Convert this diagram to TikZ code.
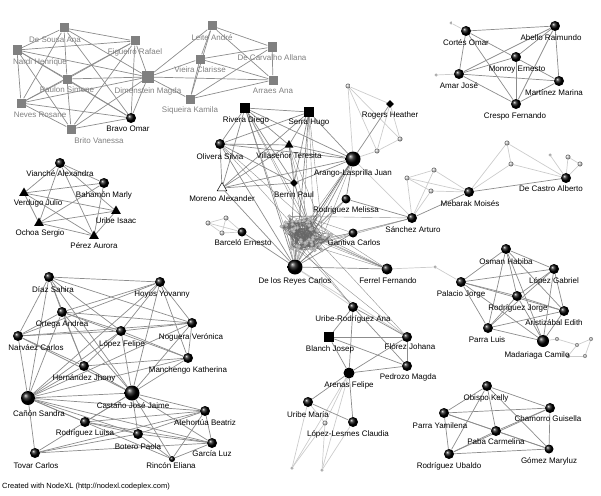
\documentclass[tikz,border=0pt]{standalone}
\usepackage{fontspec}
\setmainfont{Liberation Sans}
\usepackage{xcolor}
\usepackage{tikz}
\usetikzlibrary{positioning, shapes.geometric, backgrounds}

\begin{document}
\begin{tikzpicture}[
        x=1pt, y=-1pt,
        lbl/.style={font=\fontsize{8}{9}\selectfont, inner sep=0pt},
        glbl/.style={lbl, text=black!50},
        sq/.style={rectangle, fill=black!50, minimum size=9pt, inner sep=0pt},
        bsq/.style={rectangle, fill=black, minimum size=10pt, inner sep=0pt},
        ball/.style={circle, shading=ball, ball color=black, minimum size=10pt, inner sep=0pt},
        bigball/.style={ball, minimum size=15pt},
        lball/.style={circle, shading=ball, ball color=black!25, minimum size=5pt, inner sep=0pt},
        tri/.style={regular polygon, regular polygon sides=3, fill=black, minimum size=11pt, inner sep=0pt},
        otri/.style={tri, fill=white, draw=black, line width=0.5pt},
        dia/.style={diamond, fill=black, minimum size=8pt, inner sep=0pt},
        hair/.style={circle, draw=black!40, fill=black!25, minimum size=3.5pt, inner sep=0pt, line width=0.3pt},
        edge/.style={draw=black!45, line width=0.7pt},
        ledge/.style={draw=black!20, line width=0.7pt},
        hedge/.style={draw=black!60, line width=0.4pt, opacity=0.7}
    ]
    \useasboundingbox (0,0) rectangle (601,495);

    % top-left group
    \node[sq] (desousa) at (64,28) {};
    \node[sq] (figueiro) at (135,41) {};
    \node[sq] (nardi) at (17,50) {};
    \node[sq] (paulon) at (67,79) {};
    \node[sq, minimum size=12pt] (dimenstein) at (148,77) {};
    \node[sq] (neves) at (21,103) {};
    \node[sq] (brito) at (71,129) {};
    \node[ball] (bravo) at (131,118) {};
    \node[sq] (leite) at (212,26) {};
    \node[sq] (vieira) at (200,59) {};
    \node[sq] (decarvalho) at (272,47) {};
    \node[sq] (arraes) at (273,80) {};
    \node[sq] (siqueira) at (190,99) {};
    \node[glbl] (desousa-l) at (55,40) {De Sousa Ana};
    \node[glbl] (figueiro-l) at (135,52) {Figueiró Rafael};
    \node[glbl] (nardi-l) at (40,62) {Nardi Henrique};
    \node[glbl] (paulon-l) at (67,90) {Paulon Simone};
    \node[glbl] (dimenstein-l) at (148,91) {Dimenstein Magda};
    \node[glbl] (neves-l) at (40,115) {Neves Rosane};
    \node[glbl] (brito-l) at (99,141) {Brito Vanessa};
    \node[lbl] (bravo-l) at (128,129) {Bravo Omar};
    \node[glbl] (leite-l) at (212,38) {Leite André};
    \node[glbl] (vieira-l) at (200,70) {Vieira Clarisse};
    \node[glbl] (decarvalho-l) at (272,58) {De Carvalho Allana};
    \node[glbl] (arraes-l) at (273,91) {Arraes Ana};
    \node[glbl] (siqueira-l) at (190,110) {Siqueira Kamila};

    % top-right group
    \node[ball] (cortes) at (466,31) {};
    \node[ball] (abello) at (555,26) {};
    \node[ball] (monroy) at (516,57) {};
    \node[ball] (amar) at (459,74) {};
    \node[ball] (martinez) at (559,81) {};
    \node[ball] (crespo) at (516,104) {};
    \node[lball, minimum size=3pt] (lt1) at (451,23) {};
    \node[lball, minimum size=3pt] (lt2) at (436,75) {};
    \node[lbl] (cortes-l) at (466,43) {Cortés Omar};
    \node[lbl] (abello-l) at (551,38) {Abello Raimundo};
    \node[lbl] (monroy-l) at (517,70) {Monroy Ernesto};
    \node[lbl] (amar-l) at (459,86) {Amar José};
    \node[lbl] (martinez-l) at (554,93) {Martínez Marina};
    \node[lbl] (crespo-l) at (515,116) {Crespo Fernando};

    % middle-left group
    \node[ball] (vianche) at (60,163) {};
    \node[ball] (bahamon) at (104,183) {};
    \node[tri] (verdugo) at (24,193) {};
    \node[tri] (uribei) at (116,211) {};
    \node[tri] (ochoa) at (39,223) {};
    \node[tri] (perez) at (94,236) {};
    \node[lbl] (vianche-l) at (60,174) {Vianché Alexandra};
    \node[lbl] (bahamon-l) at (104,195) {Bahamón Marly};
    \node[lbl] (verdugo-l) at (38,203) {Verdugo Julio};
    \node[lbl] (uribei-l) at (116,221) {Uribe Isaac};
    \node[lbl] (ochoa-l) at (40,233) {Ochoa Sergio};
    \node[lbl] (perez-l) at (94,246) {Pérez Aurora};

    % centre group
    \node[bsq] (rivera) at (245,108) {};
    \node[bsq] (serra) at (309,112) {};
    \node[dia] (rogers) at (390,104) {};
    \node[ball] (olivera) at (220,144) {};
    \node[tri, minimum size=10pt] (villasenor) at (289,145) {};
    \node[bigball] (arango) at (353,159) {};
    \node[otri] (moreno) at (222,188) {};
    \node[dia] (berrin) at (294,183) {};
    \node[ball, minimum size=9pt] (melissa) at (346,199) {};
    \node[ball] (sanchez) at (412,218) {};
    \node[ball, minimum size=9pt] (barcelo) at (242,232) {};
    \node[ball, minimum size=9pt] (gantiva) at (353,233) {};
    \node[bigball] (reyes) at (295,267) {};
    \node[ball, minimum size=11pt] (ferrel) at (387,269) {};
    \node[ball] (mebarak) at (469,192) {};
    \node[ball] (decastro) at (566,178) {};
    \node[lbl] (rivera-l) at (246,120) {Rivera Diego};
    \node[lbl] (serra-l) at (309,123) {Serra Hugo};
    \node[lbl] (rogers-l) at (390,115) {Rogers Heather};
    \node[lbl] (olivera-l) at (220,157) {Olivera Silvia};
    \node[lbl] (villasenor-l) at (289,156) {Villaseñor Teresita};
    \node[lbl] (arango-l) at (353,173) {Arango-Lasprilla Juan};
    \node[lbl] (moreno-l) at (222,199) {Moreno Alexander};
    \node[lbl] (berrin-l) at (294,195) {Berrin Paul};
    \node[lbl] (melissa-l) at (346,210) {Rodriguez Melissa};
    \node[lbl] (sanchez-l) at (413,230) {Sánchez Arturo};
    \node[lbl] (barcelo-l) at (243,243) {Barceló Ernesto};
    \node[lbl] (gantiva-l) at (354,243) {Gantiva Carlos};
    \node[lbl] (reyes-l) at (295,281) {De los Reyes Carlos};
    \node[lbl] (ferrel-l) at (388,281) {Ferrel Fernando};
    \node[lbl] (mebarak-l) at (470,204) {Mebarak Moisés};
    \node[lbl] (decastro-l) at (551,189) {De Castro Alberto};

    % light nodes round the centre
    \node[lball] (ra) at (348,86) {};
    \node[lball] (rb) at (400,139) {};
    \node[lball] (rc) at (377,151) {};
    \node[lball] (ma) at (407,178) {};
    \node[lball] (mb) at (434,170) {};
    \node[lball] (mc) at (431,191) {};
    \node[lball] (md) at (507,143) {};
    \node[lball] (me) at (511,164) {};
    \node[lball, minimum size=3pt] (mf) at (550,155) {};
    \node[lball] (mg) at (568,157) {};
    \node[lball] (mh) at (580,164) {};
    \node[lball] (ba) at (208,223) {};
    \node[lball] (bb) at (226,218) {};
    \node[lball] (bc) at (222,233) {};
    \node[lball, minimum size=3pt] (fa) at (435,267) {};

    % hairball
    \pgfmathsetseed{11}
    \foreach \i in {1,...,50}{
        \pgfmathsetmacro\ang{360*rnd}
        \pgfmathsetmacro\rad{0.25+0.75*rnd}
        \node[hair] (h\i) at ({305+30*\rad*cos(\ang)},{234+22*\rad*sin(\ang)}) {};
    }

    % right group
    \node[ball] (osman) at (506,249) {};
    \node[ball] (lopezg) at (554,269) {};
    \node[ball] (palacio) at (461,282) {};
    \node[ball] (rodjorge) at (517,296) {};
    \node[ball] (aristizabal) at (564,311) {};
    \node[ball] (parral) at (488,328) {};
    \node[ball, minimum size=12pt] (madariaga) at (543,341) {};
    \node[lball, minimum size=4pt] (ca) at (557,339) {};
    \node[lball, minimum size=4pt] (cb) at (577,345) {};
    \node[lball, minimum size=4pt] (cc) at (591,339) {};
    \node[lball, minimum size=4pt] (cd) at (568,356) {};
    \node[lball, minimum size=4pt] (ce) at (585,356) {};
    \node[lbl] (osman-l) at (506,262) {Osman Habiba};
    \node[lbl] (lopezg-l) at (554,281) {López Gabriel};
    \node[lbl] (palacio-l) at (461,294) {Palacio Jorge};
    \node[lbl] (rodjorge-l) at (518,308) {Rodríguez Jorge};
    \node[lbl] (aristizabal-l) at (554,323) {Aristizábal Edith};
    \node[lbl] (parral-l) at (487,340) {Parra Luis};
    \node[lbl] (madariaga-l) at (537,355) {Madariaga Camilo};

    % bottom-left group
    \node[ball] (diaz) at (49,277) {};
    \node[ball] (ortega) at (62,312) {};
    \node[ball] (narvaez) at (18,336) {};
    \node[ball] (lopezf) at (121,331) {};
    \node[ball] (hernandez) at (84,366) {};
    \node[bigball, minimum size=14pt] (canon) at (28,398) {};
    \node[bigball] (castano) at (132,393) {};
    \node[ball] (rodluisa) at (85,422) {};
    \node[ball] (tovar) at (35,453) {};
    \node[ball] (botero) at (138,434) {};
    \node[ball] (hoyos) at (160,282) {};
    \node[ball] (noguera) at (192,323) {};
    \node[ball] (manchengo) at (188,358) {};
    \node[ball] (atehortua) at (205,411) {};
    \node[ball] (garcia) at (212,443) {};
    \node[ball, minimum size=6pt] (rincon) at (172,459) {};
    \node[lbl] (diaz-l) at (53,290) {Díaz Sahira};
    \node[lbl] (ortega-l) at (62,324) {Ortega Andrea};
    \node[lbl] (narvaez-l) at (36,348) {Narváez Carlos};
    \node[lbl] (lopezf-l) at (122,344) {López Felipe};
    \node[lbl] (hernandez-l) at (84,378) {Hernández Jhony};
    \node[lbl] (canon-l) at (39,414) {Cañón Sandra};
    \node[lbl] (castano-l) at (133,406) {Castaño José Jaime};
    \node[lbl] (rodluisa-l) at (85,433) {Rodríguez Luisa};
    \node[lbl] (tovar-l) at (36,466) {Tovar Carlos};
    \node[lbl] (botero-l) at (138,447) {Botero Paola};
    \node[lbl] (hoyos-l) at (162,295) {Hoyos Yovanny};
    \node[lbl] (noguera-l) at (191,337) {Noguera Verónica};
    \node[lbl] (manchengo-l) at (188,370) {Manchengo Katherina};
    \node[lbl] (atehortua-l) at (205,423) {Atehortúa Beatriz};
    \node[lbl] (garcia-l) at (212,454) {García Luz};
    \node[lbl] (rincon-l) at (171,466) {Rincón Eliana};

    % bottom-centre group
    \node[ball] (uriberod) at (353,307) {};
    \node[bsq] (blanch) at (329,337) {};
    \node[ball] (florez) at (407,337) {};
    \node[circle, fill=black, minimum size=11pt, inner sep=0pt] (arenas) at (349,373) {};
    \node[ball] (pedrozo) at (407,366) {};
    \node[ball] (uribem) at (308,402) {};
    \node[ball] (lesmes) at (353,422) {};
    \node[lball] (aa) at (325,423) {};
    \node[lball, minimum size=3pt] (ab) at (292,468) {};
    \node[lball, minimum size=3pt] (ac) at (322,470) {};
    \node[lbl] (uriberod-l) at (353,319) {Uribe-Rodríguez Ana};
    \node[lbl] (blanch-l) at (330,349) {Blanch Josep};
    \node[lbl] (florez-l) at (410,347) {Flórez Johana};
    \node[lbl] (arenas-l) at (349,385) {Arenas Felipe};
    \node[lbl] (pedrozo-l) at (408,377) {Pedrozo Magda};
    \node[lbl] (uribem-l) at (308,415) {Uribe María};
    \node[lbl] (lesmes-l) at (348,434) {López-Lesmes Claudia};

    % bottom-right group
    \node[ball] (obispo) at (487,386) {};
    \node[ball] (chamorro) at (550,408) {};
    \node[ball] (parray) at (444,413) {};
    \node[ball] (paba) at (496,431) {};
    \node[ball, minimum size=9pt] (gomez) at (549,449) {};
    \node[ball] (rodubaldo) at (449,454) {};
    \node[lbl] (obispo-l) at (486,398) {Obispo Kelly};
    \node[lbl] (chamorro-l) at (548,419) {Chamorro Guisella};
    \node[lbl] (parray-l) at (440,426) {Parra Yamilena};
    \node[lbl] (paba-l) at (496,442) {Paba Carmelina};
    \node[lbl] (gomez-l) at (549,461) {Gómez Maryluz};
    \node[lbl] (rodubaldo-l) at (449,466) {Rodríguez Ubaldo};

    \node[lbl, font=\fontsize{7.5}{9}\selectfont, anchor=west] (credit) at (2,487) {Created with NodeXL (http://nodexl.codeplex.com)};

    \begin{scope}[on background layer]
        % light connectors
        \foreach \a/\b in {arango/ra, rogers/ra, ra/rb, ra/rc, rogers/rb, rogers/rc, rb/rc, arango/rc,
            sanchez/ma, sanchez/mb, sanchez/mc, ma/mb, ma/mc, ma/mebarak, mb/mebarak, mc/mebarak,
            mebarak/md, mebarak/me, md/me, md/decastro, me/decastro, decastro/mf, decastro/mg,
            decastro/mh, mg/mh, gantiva/sanchez, arango/sanchez, barcelo/ba, barcelo/bb, barcelo/bc,
            ba/bb, ba/bc, bb/bc, ferrel/fa, fa/palacio, madariaga/ca, ca/cb, cb/cc, cb/cd, cd/ce,
            cc/ce, reyes/uriberod, reyes/florez, arenas/aa, arenas/ab, arenas/ac, uribem/ab,
            lesmes/ac, aa/ab, aa/ac, uribem/aa, amar/lt2, cortes/lt1}
            \draw[ledge] (\a) -- (\b);

        % top-left
        \foreach \a/\b in {desousa/nardi, desousa/figueiro, desousa/paulon, desousa/dimenstein,
            desousa/bravo, desousa/neves, nardi/figueiro, nardi/paulon, nardi/dimenstein, nardi/neves,
            nardi/brito, nardi/bravo, paulon/figueiro, paulon/dimenstein, paulon/neves, paulon/brito,
            paulon/bravo, dimenstein/figueiro, dimenstein/leite, dimenstein/vieira,
            dimenstein/siqueira, dimenstein/arraes, dimenstein/neves, dimenstein/brito,
            dimenstein/bravo, figueiro/neves, figueiro/brito, figueiro/bravo, neves/bravo,
            neves/brito, brito/bravo, vieira/leite, vieira/decarvalho, vieira/arraes, vieira/siqueira,
            leite/decarvalho, leite/siqueira, leite/arraes, siqueira/arraes, siqueira/decarvalho,
            decarvalho/arraes}
            \draw[edge] (\a) -- (\b);

        % top-right
        \foreach \a/\b in {cortes/abello, cortes/martinez, cortes/amar, cortes/crespo, abello/amar,
            abello/monroy, abello/crespo, abello/martinez, amar/monroy, amar/martinez, amar/crespo,
            monroy/crespo, martinez/crespo}
            \draw[edge] (\a) -- (\b);

        % middle-left
        \foreach \a/\b in {vianche/bahamon, vianche/verdugo, vianche/ochoa, vianche/uribei,
            vianche/perez, bahamon/verdugo, bahamon/ochoa, bahamon/perez, verdugo/uribei,
            verdugo/perez, verdugo/ochoa, ochoa/uribei, ochoa/perez, uribei/perez}
            \draw[edge] (\a) -- (\b);

        % centre
        \foreach \a/\b in {rivera/serra, rivera/olivera, rivera/moreno, rivera/villasenor,
            rivera/berrin, rivera/arango, rivera/reyes, serra/olivera, serra/villasenor, serra/berrin,
            serra/arango, serra/moreno, serra/reyes, olivera/villasenor, olivera/arango,
            olivera/berrin, olivera/moreno, olivera/reyes, villasenor/arango, villasenor/berrin,
            villasenor/moreno, berrin/arango, moreno/arango, moreno/berrin, moreno/reyes,
            arango/rogers, arango/melissa, arango/reyes, melissa/sanchez, sanchez/mebarak,
            mebarak/decastro, reyes/barcelo, reyes/ferrel, reyes/gantiva}
            \draw[edge] (\a) -- (\b);

        % hairball
        \foreach \i in {1,...,50}{
            \foreach \k in {1,...,5}{
                \pgfmathtruncatemacro\j{mod(\i+random(1,49)-1,50)+1}
                \draw[hedge] (h\i) -- (h\j);
            }
        }
        \foreach \a/\n in {reyes/12, arango/6, ferrel/6, berrin/4, rivera/3, serra/3, villasenor/3,
            melissa/3, gantiva/3, sanchez/3, olivera/2, uriberod/2, florez/2}{
            \foreach \k in {1,...,\n}{
                \pgfmathtruncatemacro\j{random(1,50)}
                \draw[hedge] (\a) -- (h\j);
            }
        }

        % right
        \foreach \a/\b in {osman/lopezg, osman/palacio, osman/rodjorge, osman/aristizabal,
            osman/parral, osman/madariaga, lopezg/palacio, lopezg/rodjorge, lopezg/aristizabal,
            lopezg/madariaga, lopezg/parral, palacio/rodjorge, palacio/aristizabal, palacio/parral,
            palacio/madariaga, rodjorge/aristizabal, rodjorge/parral, rodjorge/madariaga,
            aristizabal/parral, aristizabal/madariaga, parral/madariaga}
            \draw[edge] (\a) -- (\b);

        % bottom-left
        \foreach \a/\b in {diaz/ortega, diaz/narvaez, diaz/hoyos, diaz/lopezf, diaz/hernandez,
            diaz/castano, diaz/noguera, diaz/canon, ortega/narvaez, ortega/hoyos, ortega/lopezf,
            ortega/hernandez, ortega/castano, ortega/noguera, ortega/manchengo, ortega/canon,
            narvaez/lopezf, narvaez/hoyos, narvaez/castano, narvaez/canon, narvaez/hernandez,
            narvaez/noguera, lopezf/hoyos, lopezf/noguera, lopezf/manchengo, lopezf/castano,
            lopezf/canon, lopezf/hernandez, hoyos/noguera, hoyos/manchengo, hoyos/castano,
            hoyos/canon, noguera/manchengo, noguera/castano, noguera/canon, manchengo/castano,
            manchengo/canon, manchengo/hernandez, hernandez/castano, hernandez/canon,
            canon/castano, canon/rodluisa, canon/botero, canon/atehortua, canon/garcia, canon/tovar,
            canon/rincon, castano/rodluisa, castano/botero, castano/atehortua, castano/garcia,
            castano/rincon, castano/tovar, rodluisa/botero, rodluisa/atehortua, rodluisa/garcia,
            botero/atehortua, botero/garcia, botero/rincon, botero/tovar, atehortua/garcia,
            atehortua/rincon, atehortua/tovar, garcia/rincon, garcia/tovar}
            \draw[edge] (\a) -- (\b);

        % bottom-centre
        \foreach \a/\b in {uriberod/blanch, uriberod/arenas, uriberod/florez, uriberod/pedrozo,
            blanch/florez, blanch/arenas, blanch/pedrozo, florez/arenas, florez/pedrozo,
            arenas/pedrozo, arenas/uribem, arenas/lesmes, uribem/lesmes}
            \draw[edge] (\a) -- (\b);

        % bottom-right
        \foreach \a/\b in {obispo/chamorro, obispo/parray, obispo/paba, obispo/gomez,
            obispo/rodubaldo, parray/chamorro, parray/paba, parray/rodubaldo, parray/gomez,
            paba/chamorro, paba/rodubaldo, paba/gomez, chamorro/gomez, chamorro/rodubaldo,
            rodubaldo/gomez}
            \draw[edge] (\a) -- (\b);
    \end{scope}
\end{tikzpicture}
\end{document}
